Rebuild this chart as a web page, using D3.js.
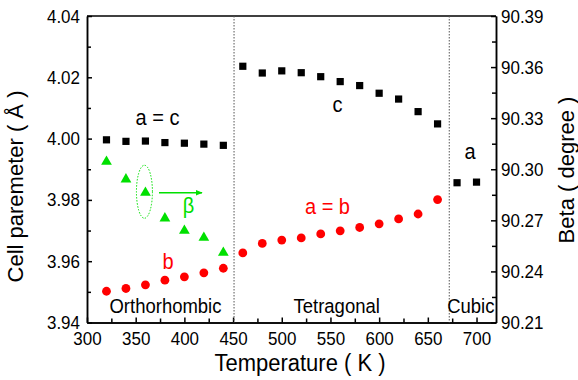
<!DOCTYPE html>
<html>
<head>
<meta charset="utf-8">
<script src="https://cdn.jsdelivr.net/npm/d3@7"></script>
<style>
  body { margin: 0; background: #fff; }
  svg { display: block; font-family: "Liberation Sans", Arial, sans-serif; }
  .axis path, .axis line { stroke: #000; stroke-width: 1.5; }
  .axis text { font-size: 17px; fill: #000; }
</style>
</head>
<body>
<svg width="578" height="380"></svg>
<script>
// orthorhombic a = c (black squares)
var orthoT = [320, 340, 360, 380, 400, 420, 440];
var orthoAC = [3.9996, 3.9991, 3.9992, 3.9987, 3.9985, 3.9982, 3.9978];
// tetragonal c, cubic a (black squares)
var tetraT = [460, 480, 500, 520, 540, 560, 580, 600, 620, 640, 660];
var tetraC = [4.0236, 4.0214, 4.0221, 4.0215, 4.0202, 4.0186, 4.0173, 4.0148, 4.0129, 4.0088, 4.0048];
var cubicT = [680, 700];
var cubicA = [3.9856, 3.9858];
// b (orthorhombic) and a = b (tetragonal), red circles
var redT = [320, 340, 360, 380, 400, 420, 440, 460, 480, 500, 520, 540, 560, 580, 600, 620, 640, 660];
var redB = [3.9502, 3.9511, 3.9523, 3.9538, 3.9549, 3.9562, 3.9577, 3.9627, 3.9658, 3.9669,
            3.9676, 3.9689, 3.9699, 3.9710, 3.9722, 3.9738, 3.9754, 3.9801];
// beta angle, right axis (green triangles)
var betaT = [320, 340, 360, 380, 400, 420, 440];
var betaV = [90.3044, 90.2941, 90.2862, 90.2712, 90.2639, 90.2598, 90.2510];

var xTicks = [300, 350, 400, 450, 500, 550, 600, 650, 700];
var yTicks = [3.94, 3.96, 3.98, 4.00, 4.02, 4.04];
var y2Ticks = [90.21, 90.24, 90.27, 90.30, 90.33, 90.36, 90.39];
var phaseBounds = [451, 672];

var svg = d3.select("svg");
var mLeft = 87, mRight = 496, mTop = 16, mBottom = 322.5;
var green = "#00e000";
var stretchY = 1.12;

var x = d3.scaleLinear().domain([300, 720]).range([mLeft, mRight]);
var y = d3.scaleLinear().domain([3.94, 4.04]).range([mBottom, mTop]);
var y2 = d3.scaleLinear().domain([90.21, 90.39]).range([mBottom, mTop]);

function minors(ticks) {
    var out = [];
    for (var i = 0; i < ticks.length - 1; i++) out.push((ticks[i] + ticks[i + 1]) / 2);
    return out;
}

// the source picture is a bit taller than wide, so stretch text about its anchor
function stretch(sel) {
    sel.each(function() {
        var t = d3.select(this);
        var tx = +t.attr("x") || 0, ty = +t.attr("y") || 0;
        t.attr("transform", (t.attr("transform") || "") +
            " translate(" + tx + "," + ty + ") scale(1," + stretchY + ") translate(" + (-tx) + "," + (-ty) + ")");
    });
}

// minor ticks first
svg.append("g").attr("class", "axis")
    .attr("transform", "translate(0," + mBottom + ")")
    .call(d3.axisBottom(x).tickValues(minors(xTicks.concat([750])).filter(d => d <= 720))
        .tickSizeInner(-4).tickSizeOuter(0).tickFormat(""));
svg.append("g").attr("class", "axis")
    .attr("transform", "translate(" + mLeft + ",0)")
    .call(d3.axisLeft(y).tickValues(minors(yTicks)).tickSizeInner(-4).tickSizeOuter(0).tickFormat(""));
svg.append("g").attr("class", "axis")
    .attr("transform", "translate(" + mRight + ",0)")
    .call(d3.axisRight(y2).tickValues(minors(y2Ticks)).tickSizeInner(-4).tickSizeOuter(0).tickFormat(""));

// major ticks
var gx = svg.append("g").attr("class", "axis")
    .attr("transform", "translate(0," + mBottom + ")")
    .call(d3.axisBottom(x).tickValues(xTicks).tickSizeInner(-5).tickSizeOuter(0).tickPadding(9).tickFormat(d3.format("d")));
var gy = svg.append("g").attr("class", "axis")
    .attr("transform", "translate(" + mLeft + ",0)")
    .call(d3.axisLeft(y).tickValues(yTicks).tickSizeInner(-5).tickSizeOuter(0).tickPadding(7).tickFormat(d3.format(".2f")));
var gy2 = svg.append("g").attr("class", "axis")
    .attr("transform", "translate(" + mRight + ",0)")
    .call(d3.axisRight(y2).tickValues(y2Ticks).tickSizeInner(-5).tickSizeOuter(0).tickPadding(5).tickFormat(d3.format(".2f")));

// use plain baselines so the stretch pivots sensibly
gx.selectAll(".tick text").attr("dy", null).attr("y", 22.5).call(stretch);
gy.selectAll(".tick text").attr("dy", null).attr("y", 6).call(stretch);
gy2.selectAll(".tick text").attr("dy", null).attr("y", 6).call(stretch);

// top frame line
svg.append("line")
    .attr("x1", mLeft).attr("x2", mRight).attr("y1", mTop).attr("y2", mTop)
    .attr("stroke", "#000").attr("stroke-width", 1.5);

// phase boundaries
svg.selectAll(".bound")
    .data(phaseBounds)
    .enter().append("line")
    .attr("class", "bound")
    .attr("x1", d => x(d)).attr("x2", d => x(d))
    .attr("y1", mTop).attr("y2", mBottom)
    .attr("stroke", "#555").attr("stroke-width", 1)
    .attr("stroke-dasharray", "1.5,1.5");

// markers
var squares = d3.zip(orthoT, orthoAC).concat(d3.zip(tetraT, tetraC), d3.zip(cubicT, cubicA));
svg.append("g").selectAll("rect")
    .data(squares)
    .enter().append("rect")
    .attr("x", d => x(d[0]) - 3.6).attr("y", d => y(d[1]) - 3.6)
    .attr("width", 7.2).attr("height", 7.2)
    .attr("fill", "#000");

svg.append("g").selectAll("circle")
    .data(d3.zip(redT, redB))
    .enter().append("circle")
    .attr("cx", d => x(d[0])).attr("cy", d => y(d[1]))
    .attr("r", 4.4)
    .attr("fill", "#ff0000");

var tri = d3.symbol().type(d3.symbolTriangle).size(50);
svg.append("g").selectAll("path")
    .data(d3.zip(betaT, betaV))
    .enter().append("path")
    .attr("d", tri)
    .attr("transform", d => "translate(" + x(d[0]) + "," + y2(d[1]) + ")")
    .attr("fill", green);

// beta marker ellipse and arrow
svg.append("ellipse")
    .attr("cx", x(360) - 1).attr("cy", y2(betaV[2]) - 1)
    .attr("rx", 8).attr("ry", 26.5)
    .attr("fill", "none").attr("stroke", green).attr("stroke-width", 1)
    .attr("stroke-dasharray", "1.5,1.5");
svg.append("defs").append("marker")
    .attr("id", "arrow").attr("viewBox", "0 0 10 10")
    .attr("refX", 9).attr("refY", 5)
    .attr("markerWidth", 7).attr("markerHeight", 7)
    .attr("markerUnits", "userSpaceOnUse")
    .attr("orient", "auto")
    .append("path").attr("d", "M0,1 L10,5 L0,9 Z").attr("fill", green);
svg.append("line")
    .attr("x1", 159).attr("x2", 202).attr("y1", 192.7).attr("y2", 192.7)
    .attr("stroke", green).attr("stroke-width", 1.5)
    .attr("marker-end", "url(#arrow)");

// annotations
var notes = [
    {t: "a = c", x: 157.5, y: 125.5, c: "#000"},
    {t: "c", x: 337.5, y: 112.5, c: "#000"},
    {t: "a", x: 470, y: 159.5, c: "#000"},
    {t: "a = b", x: 327.5, y: 214, c: "#ff0000"},
    {t: "b", x: 168, y: 269, c: "#ff0000"},
    {t: "\u03b2", x: 188.5, y: 213, c: green}
];
svg.append("g").selectAll("text")
    .data(notes)
    .enter().append("text")
    .attr("x", d => d.x).attr("y", d => d.y)
    .attr("text-anchor", "middle")
    .attr("font-size", 20)
    .attr("fill", d => d.c)
    .text(d => d.t)
    .call(stretch);

var phases = [
    {t: "Orthorhombic", x: 165.5},
    {t: "Tetragonal", x: 336.7},
    {t: "Cubic", x: 470.8}
];
svg.append("g").selectAll("text")
    .data(phases)
    .enter().append("text")
    .attr("x", d => d.x).attr("y", 313.5)
    .attr("text-anchor", "middle")
    .attr("font-size", 18.5)
    .attr("fill", "#000")
    .text(d => d.t)
    .call(stretch);

// axis titles
svg.append("text")
    .attr("x", 300).attr("y", 371)
    .attr("text-anchor", "middle").attr("font-size", 22)
    .text("Temperature ( K )")
    .call(stretch);
svg.append("text")
    .attr("transform", "translate(23,186.5) rotate(-90)")
    .attr("text-anchor", "middle").attr("font-size", 22)
    .text("Cell paremeter ( \u00c5 )");
svg.append("text")
    .attr("transform", "translate(574,170) rotate(-90)")
    .attr("text-anchor", "middle").attr("font-size", 22)
    .text("Beta ( degree )");
</script>
</body>
</html>
